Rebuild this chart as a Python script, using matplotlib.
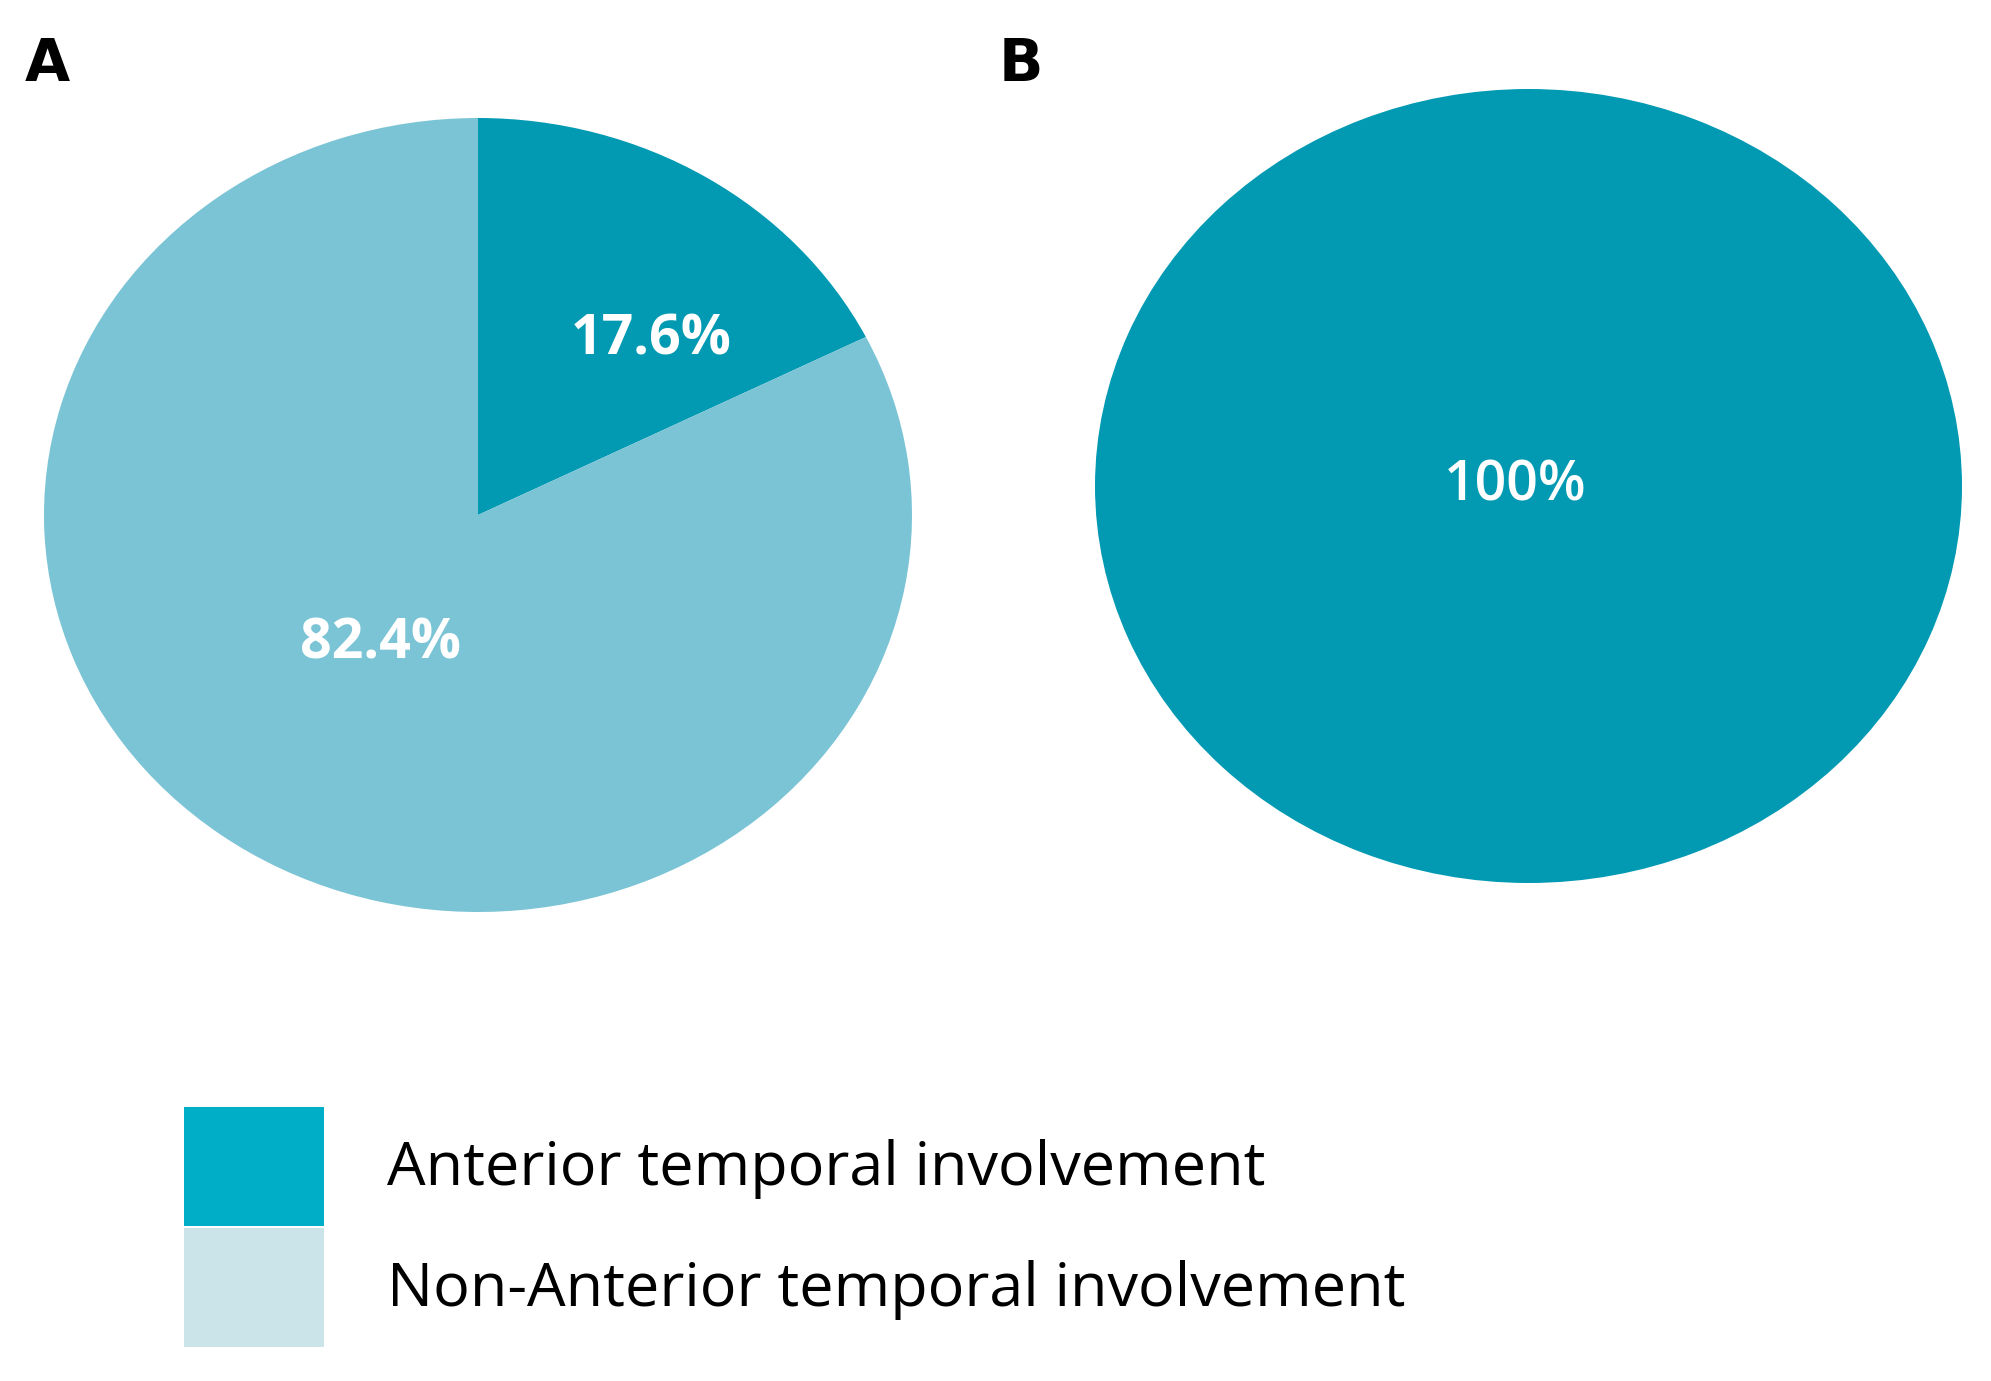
import matplotlib
matplotlib.use("Agg")
import matplotlib.pyplot as plt
from matplotlib.patches import Patch

# Data
categories = ["Anterior temporal involvement", "Non-Anterior temporal involvement"]
panel_a_values = [17.6, 82.4]
panel_b_values = [100.0]
panel_a_labels = ["17.6%", "82.4%"]
panel_b_labels = ["100%"]

# Styles
slice_colors = ["#029AB3", "#7BC4D6"]
legend_colors = ["#00AEC7", "#CBE4EA"]
panel_a_label_pos = [(0.40, 0.44), (-0.225, -0.325)]
panel_b_label_pos = [(-0.03, -0.002)]

W, H = 1991, 1381
fig = plt.figure(figsize=(W / 100, H / 100), dpi=100)
fig.patch.set_facecolor("white")


def px_axes(left, top, right, bottom):
    return fig.add_axes([left / W, 1 - bottom / H, (right - left) / W, (bottom - top) / H])


def draw_pie(ax, values, colors, labels, positions, weight):
    ax.pie(values, colors=colors, startangle=90, counterclock=False,
           radius=1, wedgeprops=dict(linewidth=0))
    ax.set_aspect("auto")
    ax.set_xlim(-1, 1)
    ax.set_ylim(-1, 1)
    ax.axis("off")
    for lab, (x, y) in zip(labels, positions):
        ax.text(x, y, lab, color="white", ha="center", va="center",
                fontsize=40, fontweight=weight, family="Open Sans")


axA = px_axes(44, 118, 912, 912)
draw_pie(axA, panel_a_values, slice_colors, panel_a_labels, panel_a_label_pos, "bold")

axB = px_axes(1095, 89, 1962, 883)
draw_pie(axB, panel_b_values, [slice_colors[0]], panel_b_labels, panel_b_label_pos, "semibold")

fig.text(25 / W, 1 - 81 / H, "A", fontsize=42, fontweight="bold",
         family="DejaVu Sans", ha="left", va="baseline")
fig.text(999 / W, 1 - 81 / H, "B", fontsize=42, fontweight="bold",
         family="DejaVu Sans", ha="left", va="baseline")

handles = [Patch(facecolor=c, edgecolor="none", linewidth=0) for c in legend_colors]
fs = 44
fs_px = fs * 100 / 72
box_h = 119 / fs_px
hh = (box_h - 0.245) / 0.65
fig.legend(handles, categories, loc="upper left",
           bbox_to_anchor=(184 / W, 1 - 1107 / H), bbox_transform=fig.transFigure,
           frameon=False, borderpad=0, borderaxespad=0, labelspacing=0.03,
           handlelength=140 / fs_px, handleheight=hh,
           handletextpad=63 / fs_px,
           prop=dict(family="Open Sans", size=fs))

fig.savefig("out.png", dpi=100, facecolor="white")
